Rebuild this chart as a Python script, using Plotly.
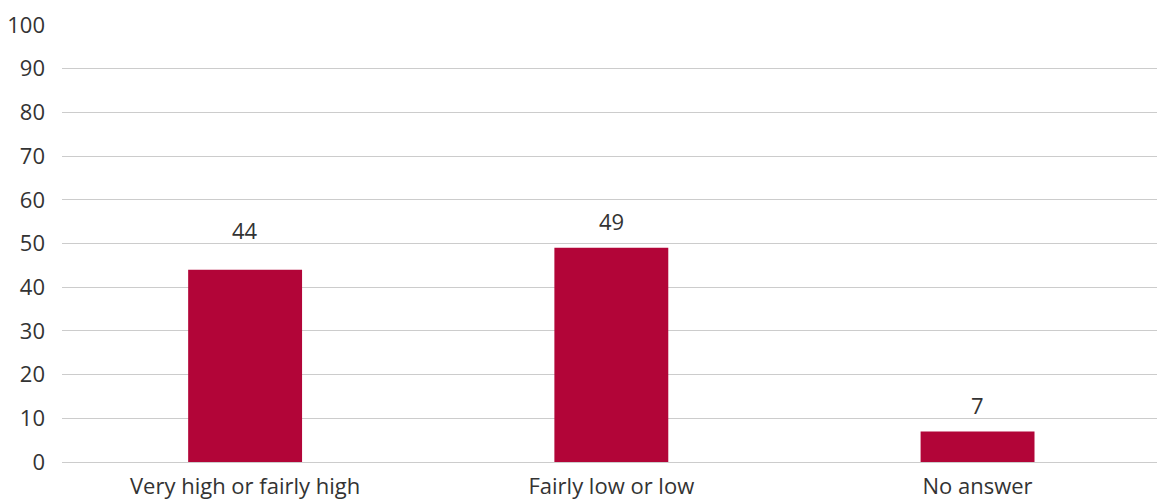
import plotly.graph_objects as go

categories = ["Very high or fairly high", "Fairly low or low", "No answer"]
values = [44, 49, 7]
y_ticks = [0, 10, 20, 30, 40, 50, 60, 70, 80, 90, 100]

# vertical distance (px) from each bar top to the centre of its value label
label_offsets = [40, 27, 26]

BAR_COLOR = "#B20538"
TEXT_COLOR = "#333333"
GRID_COLOR = "#CCCCCC"
FONT = "Open Sans, Noto Sans, sans-serif"
SIZE = 22

fig = go.Figure()
fig.add_trace(go.Bar(
    x=categories,
    y=values,
    marker=dict(color=BAR_COLOR, line=dict(width=0)),
    hoverinfo="skip",
))

for cat, val, off in zip(categories, values, label_offsets):
    fig.add_annotation(
        x=cat, y=val, text=str(val), showarrow=False,
        yanchor="middle", yshift=off,
        font=dict(family=FONT, size=SIZE, color=TEXT_COLOR),
    )

fig.update_layout(
    width=1157, height=503,
    margin=dict(l=62, r=0, t=25, b=41, autoexpand=False),
    paper_bgcolor="white", plot_bgcolor="white",
    bargap=0.689,
    showlegend=False,
    font=dict(family=FONT, size=SIZE, color=TEXT_COLOR),
    xaxis=dict(
        type="category",
        range=[-0.5, 2.49],
        showgrid=False, zeroline=False, showline=False,
        ticks="", ticklabelstandoff=9, automargin=False,
        tickfont=dict(family=FONT, size=SIZE, color=TEXT_COLOR),
    ),
    yaxis=dict(
        range=[0, 100],
        tickvals=y_ticks,
        showgrid=True, gridcolor=GRID_COLOR, gridwidth=1,
        zeroline=True, zerolinecolor=GRID_COLOR, zerolinewidth=1,
        showline=False, ticks="", ticklabelstandoff=16, automargin=False,
        tickfont=dict(family=FONT, size=SIZE, color=TEXT_COLOR),
    ),
)

fig.write_html("out.html")
